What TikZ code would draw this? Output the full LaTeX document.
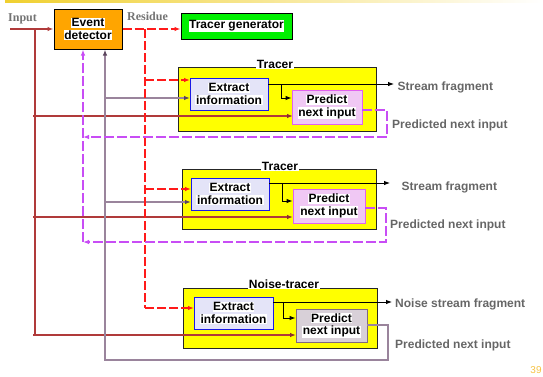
\documentclass[tikz,border=0pt]{standalone}
\usepackage{fontspec}
\setmainfont{Liberation Sans}
\newfontfamily\lserif{Liberation Serif}
\usetikzlibrary{arrows.meta}
\setlength{\fboxsep}{0.6pt}
\newcommand{\wbx}[1]{\colorbox{white}{#1}}
\definecolor{dred}{HTML}{B03A3A}
\definecolor{gpur}{HTML}{9A849C}
\definecolor{gpurd}{HTML}{5C465E}
\definecolor{mag}{HTML}{C84DF5}
\definecolor{ored}{HTML}{FF1A1A}
\definecolor{txtgray}{HTML}{666666}
\definecolor{orangebox}{HTML}{FFA500}
\definecolor{greenbox}{HTML}{00F000}
\definecolor{ybox}{HTML}{FFFF00}
\definecolor{exfill}{HTML}{E4E4F8}
\definecolor{exdraw}{HTML}{1A1AE6}
\definecolor{prfill}{HTML}{F0C8F4}
\definecolor{prdraw}{HTML}{E060F0}
\definecolor{pthreefill}{HTML}{D8D0D8}
\definecolor{pthreedraw}{HTML}{806880}
\definecolor{pagenum}{HTML}{F5C242}
\definecolor{barcol}{HTML}{F0D030}
\tikzset{
  boxtext/.style={align=center, font=\bfseries\fontsize{12}{12.5}\selectfont, inner sep=0pt},
  bigbox/.style={draw=black!85, line width=0.9pt, fill=ybox, minimum width=#1},
  exbox/.style={boxtext, draw=exdraw, line width=0.9pt, fill=exfill, minimum width=78pt, minimum height=32pt},
  prbox/.style={boxtext, draw=prdraw, line width=0.9pt, fill=prfill, minimum width=71pt, minimum height=34pt},
  titletext/.style={fill=white, inner sep=0.6pt, anchor=base, font=\bfseries\fontsize{12}{12}\selectfont},
  lbl/.style={anchor=base west, inner sep=0pt, text=txtgray, font=\bfseries\fontsize{12}{12}\selectfont},
  serlbl/.style={anchor=base west, inner sep=0pt, text=black!55, font=\lserif\bfseries\fontsize{12}{12}\selectfont},
  redd/.style={draw=ored, line width=1.6pt, dash pattern=on 9pt off 3pt},
  dline/.style={draw=dred, line width=1.4pt},
  gline/.style={draw=gpur, line width=1.2pt},
  mline/.style={draw=mag, line width=1.1pt, dash pattern=on 10pt off 3pt},
  sline/.style={draw=black, line width=0.9pt},
  tipk/.style={-{Latex[length=6pt,width=4.5pt]}},
  tipr/.style={-{Latex[length=6pt,width=4.5pt,color=ored]}},
  tipd/.style={-{Latex[length=6pt,width=4.5pt,color=dred!80!black]}},
  tipg/.style={-{Latex[length=6pt,width=4.5pt,color=gpurd]}},
  tipm/.style={-{Latex[length=6pt,width=4.5pt,color=mag]}},
}
\begin{document}
\begin{tikzpicture}[x=1pt,y=-1pt]
\useasboundingbox (0,0) rectangle (543,376);
\shade[left color=barcol, right color=white] (5,0.2) rectangle (543,2.2);

% top boxes
\node[boxtext, draw=black, line width=1pt, fill=orangebox, minimum width=68pt, minimum height=40pt] (ed) at (88,29) {\wbx{Event}\\\wbx{detector}};
\node[boxtext, draw=black, line width=1pt, fill=greenbox, minimum width=111pt, minimum height=26pt] (tg) at (236.5,26) {\wbx{Tracer generator}};
\node[serlbl] (inlbl) at (8,21.5) {Input};
\node[serlbl] (reslbl) at (127,20.5) {Residue};

% big yellow boxes
\node[bigbox=198pt, minimum height=64pt] (t1) at (277,99) {};
\node[bigbox=194pt, minimum height=60pt] (t2) at (279,199) {};
\node[bigbox=194pt, minimum height=60pt] (t3) at (280,318) {};
\node[titletext] (t1t) at (275,68) {Tracer};
\node[titletext] (t2t) at (280,170.5) {Tracer};
\node[titletext] (t3t) at (284,288.5) {Noise-tracer};

\coordinate (ex1c) at (229,94);
\coordinate (pr1c) at (327,107);
\coordinate (ex2c) at (230,194);
\coordinate (pr2c) at (329,206);
\coordinate (ex3c) at (233.5,313);
\coordinate (pr3c) at (331.5,325.5);

% input line and dark red distribution
\coordinate (inL) at (10,29);
\draw[dline, tipk] (inL) -- (ed.west);
\draw[dline] (35,29) -- (35,335.5);
\draw[dline, tipd] (33,116) -- (293,116) coordinate (pr1in);
\draw[dline, tipd] (33,217) -- (293,217) coordinate (pr2in);
\draw[dline, tipd] (33,335) -- (296,335) coordinate (pr3in);

% gray feedback / input lines
\draw[gline] (105,98) -- (105,360);
\draw[gline, tipg] (105,98) -- (190,98);
\draw[gline, tipg] (105,202) -- (191,202);

% magenta dashed feedback
\draw[mline, tipm] (83,242) -- (ed.south -| 83,0);

% red dashed residue
\draw[redd, tipr] (ed.east |- 0,29) -- (tg.west |- 0,29);
\draw[redd] (145,29) -- (145,308);
\draw[redd, tipr] (145,80) -- (190,80);
\draw[redd, tipr] (145,189) -- (191,189);
\draw[redd, tipr] (145,308) -- (194,308);

% inner boxes
\node[exbox] (ex1) at (ex1c) {\wbx{Extract}\\\wbx{information}};
\node[prbox, minimum width=70pt] (pr1) at (pr1c) {\wbx{Predict}\\\wbx{next input}};
\node[exbox] (ex2) at (ex2c) {\wbx{Extract}\\\wbx{information}};
\node[prbox, minimum width=72pt] (pr2) at (pr2c) {\wbx{Predict}\\\wbx{next input}};
\node[exbox, minimum width=79pt] (ex3) at (ex3c) {\wbx{Extract}\\\wbx{information}};
\node[prbox, minimum width=71pt, minimum height=33pt, draw=pthreedraw, fill=pthreefill] (pr3) at (pr3c) {\wbx{Predict}\\\wbx{next input}};

% gray branch from noise tracer output back to detector
\draw[gline, tipg] (pr3.east |- 0,325) -- (388,325) -- (388,360) -- (105,360) -- (ed.south -| 105,0);

% magenta predicted outputs
\draw[mline, tipm] (pr1.east |- 0,110) -- (387,110) -- (387,137) -- (83,137);
\draw[mline, tipm] (pr2.east |- 0,208) -- (386,208) -- (386,242) -- (83,242);

% stream outputs
\draw[sline, tipk] (ex1.east |- 0,84) -- (394,84);
\draw[sline, tipk] (281,84) -- (281,98) -- (pr1.west |- 0,98);
\draw[sline, tipk] (ex2.east |- 0,183) -- (390,183);
\draw[sline, tipk] (282,183) -- (282,201) -- (pr2.west |- 0,201);
\draw[sline, tipk] (ex3.east |- 0,302) -- (392,302);
\draw[sline, tipk] (283,302) -- (283,318) -- (pr3.west |- 0,318);

% labels
\node[lbl] (s1) at (397.5,90) {Stream fragment};
\node[lbl] (p1) at (392,128.6) {Predicted next input};
\node[lbl] (s2) at (401.5,190.3) {Stream fragment};
\node[lbl] (p2) at (390,228) {Predicted next input};
\node[lbl] (s3) at (395,307) {Noise stream fragment};
\node[lbl] (p3) at (395,348) {Predicted next input};
\node[text=pagenum, font=\fontsize{10}{10}\selectfont, inner sep=0pt] (pg) at (536,370) {39};
\end{tikzpicture}
\end{document}
